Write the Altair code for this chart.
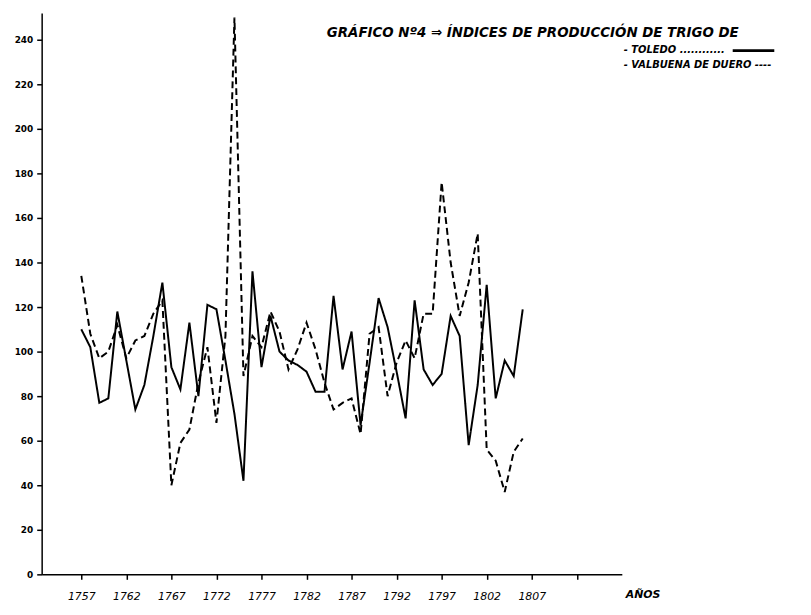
import altair as alt
import pandas as pd

years = list(range(1757, 1807))
toledo = [110, 102, 77, 79, 118, 96, 74, 85, 107, 131,
          93, 83, 113, 80, 121, 119, 96, 72, 42, 136,
          93, 116, 100, 96, 94, 91, 82, 82, 125, 92,
          109, 67, 95, 124, 111, 91, 70, 123, 92, 85,
          90, 116, 107, 58, 85, 130, 79, 96, 89, 119]
valbuena = [134, 108, 97, 100, 112, 97, 105, 107, 117, 123,
            40, 59, 65, 86, 102, 68, 107, 250, 89, 107,
            102, 118, 109, 92, 101, 113, 101, 86, 74, 77,
            79, 63, 108, 111, 80, 95, 105, 97, 117, 117,
            176, 140, 116, 131, 153, 56, 51, 37, 55, 61]
series_names = ["Toledo", "Valbuena de Duero"]
x_ticks = list(range(1757, 1813, 5))
y_ticks = list(range(0, 260, 20))
title_text = "GRÁFICO Nº4 ⇒ ÍNDICES DE PRODUCCIÓN DE TRIGO DE"
legend_texts = ["- TOLEDO ............", "- VALBUENA DE DUERO ----"]
x_axis_word = "AÑOS"

df = pd.DataFrame({
    "year": years * 2,
    "value": toledo + valbuena,
    "serie": [series_names[0]] * len(years) + [series_names[1]] * len(years),
})

W, H = 586, 567
FONT = "DejaVu Sans"

base = alt.Chart(df)

lines = base.mark_line(color="black", strokeWidth=2, strokeJoin="miter").encode(
    x=alt.X("year:Q",
            scale=alt.Scale(domain=[1752.6, 1817], nice=False, zero=False),
            axis=alt.Axis(values=x_ticks, format="d", title=None, grid=False,
                          labelExpr="datum.value > 1807 ? '' : datum.label",
                          tickSize=5, tickColor="black", tickWidth=1.5,
                          domainColor="black", domainWidth=1.5,
                          labelColor="black", labelFont=FONT, labelFontSize=11,
                          labelFontStyle="italic", labelPadding=11)),
    y=alt.Y("value:Q",
            scale=alt.Scale(domain=[0, 252], nice=False),
            axis=alt.Axis(values=y_ticks, title=None, grid=False,
                          tickSize=5, tickColor="black", tickWidth=1.5,
                          domainColor="black", domainWidth=1.5,
                          labelColor="black", labelFont=FONT, labelFontSize=9,
                          labelFontWeight="bold", labelPadding=4)),
    strokeDash=alt.StrokeDash("serie:N",
                              scale=alt.Scale(domain=series_names, range=[[1, 0], [7, 4]]),
                              legend=None),
    detail="serie:N",
)

def label(text, x, y, size=11, align="left"):
    return alt.Chart(pd.DataFrame({"t": [text]})).mark_text(
        font=FONT, fontSize=size, fontWeight="bold", fontStyle="italic",
        color="black", align=align, baseline="middle"
    ).encode(text="t:N", x=alt.value(x), y=alt.value(y))

t_title = label(title_text, 288, 20, size=13.5)
t_leg1 = label(legend_texts[0], 588, 37, size=10)
t_leg2 = label(legend_texts[1], 588, 53, size=10)
leg_rule = alt.Chart(pd.DataFrame({"a": [0]})).mark_rule(color="black", strokeWidth=3).encode(
    x=alt.value(698), x2=alt.value(740), y=alt.value(38))
t_anos = label(x_axis_word, 590, 588, size=11)

chart = alt.layer(lines, t_title, t_leg1, t_leg2, leg_rule, t_anos).properties(
    width=W, height=H,
    autosize="none",
    padding={"left": 34, "top": 2, "right": 183, "bottom": 38},
).configure(background="white").configure_view(stroke=None)

chart.save("out.html", embed_options={"renderer": "svg", "actions": False})
